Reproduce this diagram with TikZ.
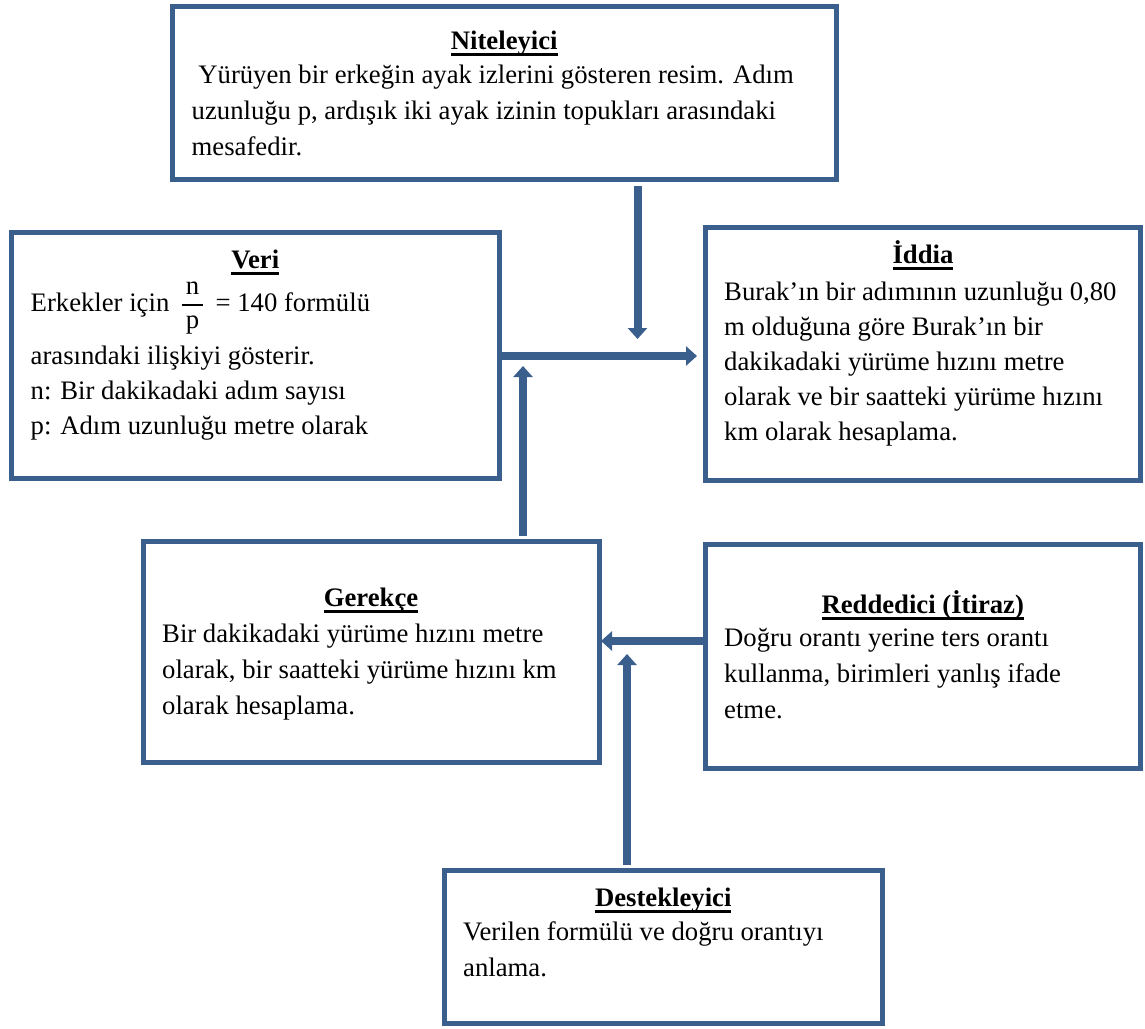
\documentclass[tikz,border=0pt]{standalone}
\usepackage{fontspec}
\setmainfont{Liberation Serif}
\usetikzlibrary{arrows.meta}
\definecolor{bblue}{RGB}{58,95,140}
\newsavebox\ttlbox
\newcommand\ttl[1]{\sbox\ttlbox{\textbf{#1}}\usebox\ttlbox\llap{\rule[-7pt]{\wd\ttlbox}{3pt}}}
\begin{document}
\begin{tikzpicture}[x=1pt,y=-1pt,
  box/.style={draw=bblue, line width=5pt, fill=white, inner sep=0pt, rectangle},
  ttlnode/.style={inner sep=0pt, anchor=base, font=\fontsize{26.7}{36}\selectfont},
  txt/.style={inner sep=0pt, align=left, anchor=base west, font=\fontsize{26.7}{36}\selectfont},
  arr/.style={draw=bblue, line width=8pt, -{Triangle[width=19pt,length=11pt]}, bblue}]
\useasboundingbox[fill=white] (0,0) rectangle (1145,1028);
% boxes
\node[box, minimum width=663.5pt, minimum height=173pt] (nit) at (504.25,93) {};
\node[box, minimum width=488.5pt, minimum height=245.5pt] (veri) at (255.25,355.25) {};
\node[box, minimum width=435pt, minimum height=252.5pt] (iddia) at (923,353.75) {};
\node[box, minimum width=456pt, minimum height=221pt] (ger) at (371,651.5) {};
\node[box, minimum width=434.5pt, minimum height=224pt] (red) at (922.75,656) {};
\node[box, minimum width=437.5pt, minimum height=153pt] (des) at (663.25,947) {};
% titles
\node[ttlnode] (nitT) at (504.25,49) {\ttl{Niteleyici}};
\node[ttlnode] (veriT) at (255.25,268) {\ttl{Veri}};
\node[ttlnode] (iddiaT) at (923,263) {\ttl{İddia}};
\node[ttlnode] (gerT) at (371,606) {\ttl{Gerekçe}};
\node[ttlnode] (redT) at (922.75,613) {\ttl{Reddedici (İtiraz)}};
\node[ttlnode] (desT) at (663.25,906) {\ttl{Destekleyici}};
% bodies (anchored at the baseline of the last line)
\node[txt] (nitB) at (191.5,155) {\ Yürüyen bir erkeğin ayak izlerini gösteren resim. Adım\\uzunluğu p, ardışık iki ayak izinin topukları arasındaki\\mesafedir.};
\node[txt] (veriB1) at (30.5,311) {Erkekler için \,$\displaystyle{\,\mbox{n}\,\above 2pt\,\mbox{p}\,}$\, = 140 formülü};
\node[txt, font=\fontsize{26.7}{35}\selectfont] (veriB2) at (30.5,434) {arasındaki ilişkiyi gösterir.\\n: Bir dakikadaki adım sayısı\\p: Adım uzunluğu metre olarak};
\node[txt, font=\fontsize{26.7}{35}\selectfont] (iddiaB) at (724,440) {Burak’ın bir adımının uzunluğu 0,80\\m olduğuna göre Burak’ın bir\\dakikadaki yürüme hızını metre\\olarak ve bir saatteki yürüme hızını\\km olarak hesaplama.};
\node[txt] (gerB) at (162,714) {Bir dakikadaki yürüme hızını metre\\olarak, bir saatteki yürüme hızını km\\olarak hesaplama.};
\node[txt] (redB) at (724,718) {Doğru orantı yerine ters orantı\\kullanma, birimleri yanlış ifade\\etme.};
\node[txt] (desB) at (463,976) {Verilen formülü ve doğru orantıyı\\anlama.};
% connector end points
\coordinate (dA) at (nit.south -| 637.5,0);
\coordinate (dB) at (637.5,339);
\coordinate (hA) at (502,356);
\coordinate (hB) at (697,356);
\coordinate (gA) at (ger.north -| 523,0);
\coordinate (gB) at (523,366);
\coordinate (rA) at (red.west |- 0,641);
\coordinate (rB) at (601,641);
\coordinate (sA) at (des.north -| 627,0);
\coordinate (sB) at (627,654);
% connectors
\draw[arr] ([yshift=-4pt]dA) -- (dB);
\draw[arr] (hA) -- (hB);
\draw[arr] ([yshift=3pt]gA) -- (gB);
\draw[arr] ([xshift=2pt]rA) -- (rB);
\draw[arr] ([yshift=3pt]sA) -- (sB);
\end{tikzpicture}
\end{document}
